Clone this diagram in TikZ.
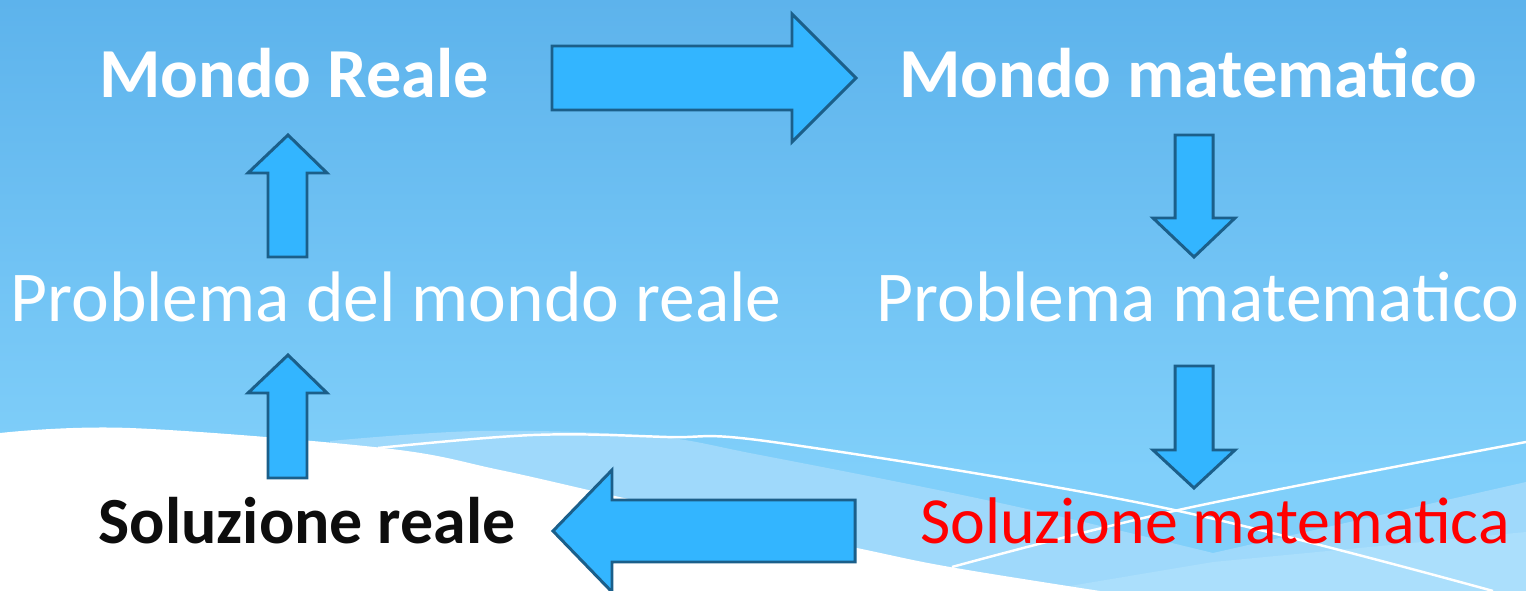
\documentclass[tikz,border=0pt]{standalone}
\usepackage{fontspec}
\setmainfont{Carlito}
\begin{document}
\begin{tikzpicture}[x=0.02cm,y=-0.02cm,
  blockarrow/.style={draw=arrowedge,fill=arrowfill,line width=1.7pt,line join=miter},
  wline/.style={draw=white,line width=1.4pt},
  lbl/.style={inner sep=0pt,anchor=base,font=\fontsize{40.7}{48}\selectfont},
  bold/.style={font=\fontsize{40}{48}\selectfont\bfseries},
  small/.style={font=\fontsize{37.5}{45}\selectfont},
  smallbold/.style={font=\fontsize{37.5}{45}\selectfont\bfseries}]
\definecolor{bgtop}{HTML}{5DB3EC}
\definecolor{bgbot}{HTML}{80CFFA}
\definecolor{bandA}{HTML}{9FD9FB}
\definecolor{bandB}{HTML}{ABDFFC}
\definecolor{arrowfill}{HTML}{33B5FF}
\definecolor{arrowedge}{HTML}{1B5F8A}
\definecolor{solred}{HTML}{FF0000}
\useasboundingbox (0,0) rectangle (1526,591);
% background
\fill[top color=bgtop,bottom color=bgbot] (0,0) rectangle (1526,470);
\fill[bgbot] (0,469) rectangle (1526,591);
% light band
\fill[bandA] plot[smooth,tension=0.6] coordinates {(330,441) (480,431) (650,436) (760,455) (1000,503) (1213,553)}
  -- (1526,482) -- (1526,591) -- (330,591) -- cycle;
\fill[bandB] (1040,591) -- (1213,562) -- (1526,532) -- (1526,591) -- cycle;
% white area
\fill[white] plot[smooth,tension=0.6] coordinates {(0,433) (130,428) (383,448) (500,470) (633,500) (857,548) (950,567) (1100,591)}
  -- (0,591) -- cycle;
% white lines
\draw[wline] plot[smooth,tension=0.6] coordinates {(378,448) (533,435) (667,437) (780,443) (1160,507) (1493,591)};
\draw[wline] plot[smooth,tension=0.6] coordinates {(952,567) (1183,509) (1526,442)};
% labels
\node[lbl,bold,text=white] (mr) at (294,98) {Mondo Reale};
\node[lbl,bold,text=white] (mm) at (1188,98) {Mondo matematico};
\node[lbl,text=white] (pr) at (396,322) {Problema del mondo reale};
\node[lbl,text=white] (pm) at (1198,322) {Problema matematico};
\node[lbl,smallbold,text=black!95] (sr) at (307,543) {Soluzione reale};
\node[lbl,small,text=solred] (sm) at (1215,543) {Soluzione matematica};
% block arrows
\draw[blockarrow] (552,46) -- (792,46) -- (792,14) -- (856,78) -- (792,142) -- (792,110) -- (552,110) -- cycle;
\draw[blockarrow] (1175,135) -- (1213,135) -- (1213,218) -- (1235,218) -- (1194,257) -- (1153,218) -- (1175,218) -- cycle;
\draw[blockarrow] (1175,366) -- (1213,366) -- (1213,450) -- (1235,450) -- (1194,488) -- (1153,450) -- (1175,450) -- cycle;
\draw[blockarrow] (855,500) -- (612,500) -- (612,470) -- (553,531) -- (612,592) -- (612,562) -- (855,562) -- cycle;
\draw[blockarrow] (268,478) -- (268,393) -- (248,393) -- (288,355) -- (327,393) -- (307,393) -- (307,478) -- cycle;
\draw[blockarrow] (268,257) -- (268,173) -- (248,173) -- (288,135) -- (327,173) -- (307,173) -- (307,257) -- cycle;
\end{tikzpicture}
\end{document}
